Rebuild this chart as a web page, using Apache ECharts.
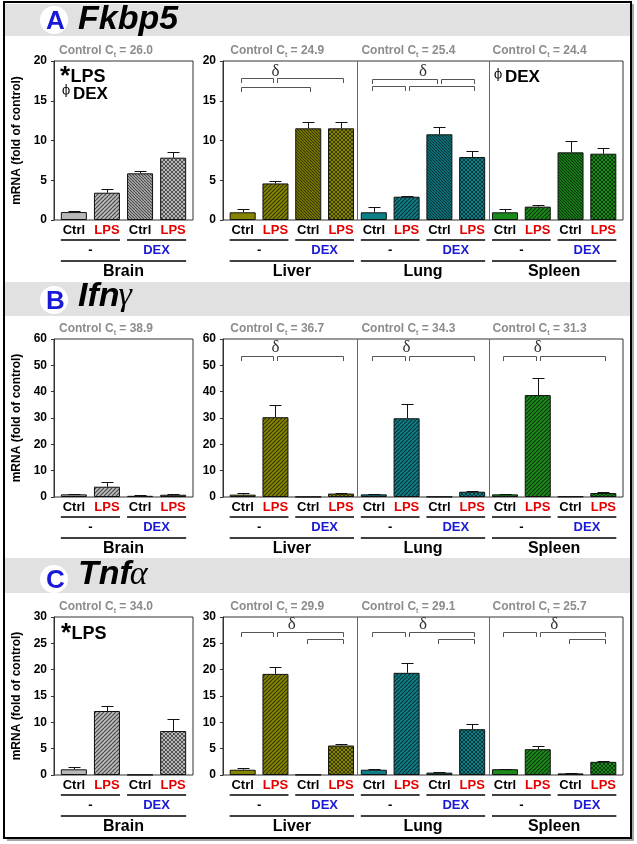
<!DOCTYPE html>
<html><head><meta charset="utf-8">
<script src="https://cdn.jsdelivr.net/npm/echarts@6.0.0/dist/echarts.min.js"></script>
<style>html,body{margin:0;padding:0;background:#fff}#c{width:637px;height:844px}</style>
</head><body><div id="c"></div>
<script>
// ---------------- data ----------------
const categories = ['Ctrl', 'LPS', 'Ctrl', 'LPS'];
const treatments = ['-', 'DEX'];
const tissues = ['Brain', 'Liver', 'Lung', 'Spleen'];
const genes = ['Fkbp5', 'Ifn', 'Tnf'];
const geneGreek = ['', 'γ', 'α'];
const panelLetters = ['A', 'B', 'C'];

const fkbp5Ct = [26.0, 24.9, 25.4, 24.4];
const ifngCt = [38.9, 36.7, 34.3, 31.3];
const tnfaCt = [34.0, 29.9, 29.1, 25.7];

const fkbp5Brain = [1.0, 3.43, 5.87, 7.84];
const fkbp5BrainErr = [0.1, 0.43, 0.29, 0.71];
const fkbp5Organs = [0.97, 4.6, 11.53, 11.53, 0.97, 2.93, 10.78, 7.92, 0.97, 1.68, 8.51, 8.34];
const fkbp5OrganErr = [0.38, 0.3, 0.8, 0.8, 0.63, 0.13, 0.88, 0.72, 0.41, 0.17, 1.43, 0.67];

const ifngBrain = [1.0, 3.9, 0.45, 0.85];
const ifngBrainErr = [0.25, 1.7, 0.15, 0.25];
const ifngOrgans = [0.9, 30.3, 0.05, 1.3, 1.0, 29.9, 0.1, 2.0, 1.0, 38.7, 0.2, 1.5];
const ifngOrganErr = [0.7, 4.6, 0, 0.35, 0.2, 5.4, 0, 0.4, 0.2, 6.5, 0, 0.25];

const tnfaBrain = [1.08, 12.15, 0.05, 8.35];
const tnfaBrainErr = [0.38, 0.95, 0, 2.35];
const tnfaOrgans = [1.0, 19.2, 0.05, 5.6, 1.0, 19.4, 0.45, 8.7, 1.1, 4.9, 0.3, 2.5];
const tnfaOrganErr = [0.4, 1.4, 0, 0.35, 0.2, 1.95, 0.05, 0.9, 0.1, 0.6, 0.05, 0.1];

// significance brackets: [fromIndex, toIndex, level]
const fkbp5Brackets = [[0, 1, 17.86], [1, 3, 17.86], [0, 2, 16.73], [4, 6, 17.75], [6, 7, 17.75], [4, 5, 16.9], [5, 7, 16.9]];
const fkbp5Deltas = [[1, 18.65], [5.5, 18.7]];
const ifngBrackets = [[0, 1, 53.7], [1, 3, 53.7], [4, 5, 53.7], [5, 7, 53.7], [8, 9, 53.7], [9, 11, 53.7]];
const ifngDeltas = [[1, 56.8], [5, 56.8], [9, 56.8]];
const tnfaBrackets = [[0, 1, 27.1], [1, 3, 27.1], [2, 3, 25.9], [4, 5, 27.1], [5, 7, 27.1], [6, 7, 25.9], [8, 9, 27.1], [9, 11, 27.1], [10, 11, 25.9]];
const tnfaDeltas = [[1.5, 28.5], [5.5, 28.5], [9.5, 28.5]];

const yMax = [20, 60, 30];
const yInterval = [5, 10, 5];

// ---------------- styles / layout ----------------
const FONT = '"Liberation Sans", Arial, sans-serif';
const SERIF = '"Liberation Serif", "DejaVu Serif", serif';
const tissueColors = ['#b8b8b8', '#858500', '#0f7f87', '#1b8a1b'];
const panelTops = [61, 339, 617];
const panelHeights = [159, 158, 158];
const brainL = { left: 54, width: 139, n: 4 };
const organL = { left: 223, width: 400, n: 12 };
const BW = 26;

function tile(base, kind) {
  const p = kind === 'b' ? 3 : 4;
  const c = document.createElement('canvas');
  c.width = p; c.height = p;
  const g = c.getContext('2d');
  g.fillStyle = base; g.fillRect(0, 0, p, p);
  g.strokeStyle = 'rgba(0,0,0,0.62)';
  g.lineWidth = kind === 'x' ? 0.9 : 1.1;
  const diag = (dir) => {
    for (let k = -1; k <= 1; k++) {
      g.beginPath();
      if (dir > 0) { g.moveTo(k * p, p); g.lineTo(k * p + p, 0); }
      else { g.moveTo(k * p, 0); g.lineTo(k * p + p, p); }
      g.stroke();
    }
  };
  if (kind === 'f') diag(1);
  else if (kind === 'b') diag(-1);
  else if (kind === 'x') { diag(1); diag(-1); }
  return { image: c, repeat: 'repeat' };
}
const kinds = ['s', 'f', 'b', 'x'];
function barColor(tissueIdx, catIdx) {
  const base = tissueColors[tissueIdx];
  if (catIdx === 0) return base;
  return tile(base, kinds[catIdx]);
}
function coordX(L, v) { return L.left + (v + 0.6) * L.width / (L.n + 0.2); }

const panelData = [
  { brain: fkbp5Brain, brainErr: fkbp5BrainErr, organs: fkbp5Organs, organErr: fkbp5OrganErr, ct: fkbp5Ct, brackets: fkbp5Brackets, deltas: fkbp5Deltas },
  { brain: ifngBrain, brainErr: ifngBrainErr, organs: ifngOrgans, organErr: ifngOrganErr, ct: ifngCt, brackets: ifngBrackets, deltas: ifngDeltas },
  { brain: tnfaBrain, brainErr: tnfaBrainErr, organs: tnfaOrgans, organErr: tnfaOrganErr, ct: tnfaCt, brackets: tnfaBrackets, deltas: tnfaDeltas }
];

const grids = [], xAxes = [], yAxes = [], series = [];

panelData.forEach((P, p) => {
  [brainL, organL].forEach((L, k) => {
    const gi = grids.length;
    grids.push({ left: L.left, top: panelTops[p], width: L.width, height: panelHeights[p], show: true,
      borderColor: '#333', borderWidth: 1, backgroundColor: 'rgba(0,0,0,0)', containLabel: false, outerBoundsMode: 'none' });
    xAxes.push({ gridIndex: gi, type: 'value', min: -0.6, max: L.n - 0.4, show: false });
    yAxes.push({ gridIndex: gi, type: 'value', min: 0, max: yMax[p], interval: yInterval[p], position: 'left',
      axisLine: { show: true, onZero: false, lineStyle: { color: '#333', width: 1 } },
      axisTick: { show: true, length: 3, lineStyle: { color: '#333' } },
      splitLine: { show: false },
      axisLabel: { color: '#000', fontWeight: 'bold', fontSize: 12, fontFamily: FONT, margin: 7 },
      name: k === 0 ? 'mRNA (fold of control)' : '',
      nameLocation: 'middle', nameGap: 31, nameRotate: 90,
      nameTextStyle: { color: '#000', fontWeight: 'bold', fontSize: 12, fontFamily: FONT } });

    const vals = k === 0 ? P.brain : P.organs;
    const errs = k === 0 ? P.brainErr : P.organErr;
    const tIdx = (i) => k === 0 ? 0 : 1 + Math.floor(i / 4);

    series.push({ type: 'bar', xAxisIndex: gi, yAxisIndex: gi, barWidth: BW, silent: true, z: 2,
      itemStyle: { borderColor: '#111', borderWidth: 1 },
      data: vals.map((v, i) => ({ value: [i, v], itemStyle: { color: barColor(tIdx(i), i % 4) } })) });

    // error bars
    series.push({ type: 'custom', xAxisIndex: gi, yAxisIndex: gi, silent: true, z: 3, clip: false,
      data: vals.map((v, i) => [i, v, errs[i]]),
      encode: { x: 0, y: 1 },
      renderItem: (params, api) => {
        const x = api.value(0), v = api.value(1), e = api.value(2);
        if (!e) return null;
        const a = api.coord([x, v]), b = api.coord([x, v + e]);
        const xc = Math.round(a[0]) + 0.5, yt = Math.round(b[1]) + 0.5;
        return { type: 'group', children: [
          { type: 'line', shape: { x1: xc, y1: a[1], x2: xc, y2: yt }, style: { stroke: '#111', lineWidth: 1 } },
          { type: 'line', shape: { x1: xc - 6, y1: yt, x2: xc + 6, y2: yt }, style: { stroke: '#111', lineWidth: 1 } }
        ] };
      } });

    // category labels
    series.push({ type: 'custom', xAxisIndex: gi, yAxisIndex: gi, silent: true, clip: false,
      data: vals.map((v, i) => [i, 0]), encode: { x: 0, y: 1 },
      renderItem: (params, api) => {
        const i = api.value(0);
        const a = api.coord([i, 0]);
        const t = categories[i % 4];
        return { type: 'text', x: a[0], y: a[1] + 10.5,
          style: { text: t, font: 'bold 13px ' + FONT, fill: t === 'LPS' ? '#e60000' : '#000', align: 'center', verticalAlign: 'middle' } };
      } });

    // treatment groups
    const groups = [];
    for (let s = 0; s < L.n; s += 2) groups.push([s, s + 1, 0]);
    series.push({ type: 'custom', xAxisIndex: gi, yAxisIndex: gi, silent: true, clip: false,
      data: groups, encode: { x: [0, 1], y: 2 },
      renderItem: (params, api) => {
        const a = api.coord([api.value(0), 0]), b = api.coord([api.value(1), 0]);
        const lab = treatments[params.dataIndex % 2];
        const yl = Math.round(a[1] + 19.5);
        return { type: 'group', children: [
          { type: 'line', shape: { x1: a[0] - BW / 2, y1: yl, x2: b[0] + BW / 2, y2: yl }, style: { stroke: '#000', lineWidth: 1.6 } },
          { type: 'text', x: (a[0] + b[0]) / 2, y: a[1] + 30,
            style: { text: lab, font: 'bold 13px ' + FONT, fill: lab === 'DEX' ? '#1a1ad6' : '#000', align: 'center', verticalAlign: 'middle' } }
        ] };
      } });

    // tissue groups
    const tg = [];
    for (let s = 0; s < L.n; s += 4) tg.push([s, s + 3, 0]);
    series.push({ type: 'custom', xAxisIndex: gi, yAxisIndex: gi, silent: true, clip: false,
      data: tg, encode: { x: [0, 1], y: 2 },
      renderItem: (params, api) => {
        const a = api.coord([api.value(0), 0]), b = api.coord([api.value(1), 0]);
        const name = tissues[k === 0 ? 0 : 1 + params.dataIndex];
        const yl = Math.round(a[1] + 41);
        return { type: 'group', children: [
          { type: 'line', shape: { x1: a[0] - BW / 2, y1: yl, x2: b[0] + BW / 2, y2: yl }, style: { stroke: '#000', lineWidth: 1.6 } },
          { type: 'text', x: (a[0] + b[0]) / 2, y: a[1] + 52,
            style: { text: name, font: 'bold 16px ' + FONT, fill: '#000', align: 'center', verticalAlign: 'middle' } }
        ] };
      } });

    if (k === 1) {
      // dividers between tissues
      series.push({ type: 'custom', xAxisIndex: gi, yAxisIndex: gi, silent: true, clip: false,
        data: [[3.5, 0], [7.5, 0]], encode: { x: 0, y: 1 },
        renderItem: (params, api) => {
          const a = api.coord([api.value(0), 0]), b = api.coord([api.value(0), yMax[p]]);
          const x = Math.round(a[0]) + 0.5;
          return { type: 'line', shape: { x1: x, y1: a[1], x2: x, y2: b[1] }, style: { stroke: '#666', lineWidth: 1 } };
        } });
      // brackets
      const br = P.brackets;
      const offs = br.map(b => {
        const sl = br.some(o => o !== b && o[2] === b[2] && (o[0] === b[0] || o[1] === b[0]));
        const sr = br.some(o => o !== b && o[2] === b[2] && (o[0] === b[1] || o[1] === b[1]));
        return [sl ? 2 : -1.5, sr ? -2 : 1.5];
      });
      series.push({ type: 'custom', xAxisIndex: gi, yAxisIndex: gi, silent: true, clip: false, z: 4,
        data: br, encode: { x: [0, 1], y: 2 },
        renderItem: (params, api) => {
          const o = offs[params.dataIndex];
          const a = api.coord([api.value(0), api.value(2)]), b = api.coord([api.value(1), api.value(2)]);
          const y = Math.round(a[1]) + 0.5;
          const xa = Math.round(a[0] + o[0]) + 0.5, xb = Math.round(b[0] + o[1]) + 0.5;
          return { type: 'polyline', shape: { points: [[xa, y + 4.5], [xa, y], [xb, y], [xb, y + 4.5]] },
            style: { stroke: '#555', lineWidth: 1, fill: null } };
        } });
      // delta marks
      series.push({ type: 'custom', xAxisIndex: gi, yAxisIndex: gi, silent: true, clip: false, z: 4,
        data: P.deltas, encode: { x: 0, y: 1 },
        renderItem: (params, api) => {
          const a = api.coord([api.value(0), api.value(1)]);
          return { type: 'text', x: a[0], y: a[1],
            style: { text: 'δ', font: '17px ' + SERIF, fill: '#333', align: 'center', verticalAlign: 'middle' } };
        } });
    }
  });
});

// ---------------- decorations ----------------
const graphic = [];
graphic.push({ type: 'polyline', silent: true, z: 50, shape: { points: [[633, 4], [633, 840], [7, 840]] }, style: { stroke: '#8a8a8a', lineWidth: 1.5, fill: null } });
graphic.push({ type: 'rect', silent: true, z: 51, shape: { x: 4, y: 2, width: 627, height: 836 }, style: { stroke: '#000', lineWidth: 2, fill: null } });
const bands = [[4, 32], [282, 34], [558, 35]];
const circleY = [20, 300, 579];
const titleBase = [31.7, 308.3, 586.7];
bands.forEach((b, p) => {
  graphic.push({ type: 'rect', silent: true, z: 1, shape: { x: 5, y: b[0], width: 625, height: b[1] }, style: { fill: '#e1e1e1' } });
  graphic.push({ type: 'circle', silent: true, z: 2, shape: { cx: 54, cy: circleY[p], r: 14 }, style: { fill: '#fff' } });
  graphic.push({ type: 'text', silent: true, z: 3, x: 55.5, y: circleY[p] + 2,
    style: { text: panelLetters[p], font: 'bold 26px ' + FONT, fill: '#1a1ad6', align: 'center', verticalAlign: 'middle' } });
  const gFont = 'italic bold 34px ' + FONT;
  graphic.push({ type: 'text', silent: true, z: 3, x: 78, y: titleBase[p] - 11.9,
    style: { text: genes[p], font: gFont, fill: '#000', align: 'left', verticalAlign: 'middle' } });
  if (geneGreek[p]) {
    const mc = document.createElement('canvas').getContext('2d');
    mc.font = gFont;
    const w = mc.measureText(genes[p]).width;
    graphic.push({ type: 'text', silent: true, z: 3, x: 78 + w - 1, y: titleBase[p] - 11.9,
      style: { text: geneGreek[p], font: 'italic 34px ' + SERIF, fill: '#000', align: 'left', verticalAlign: 'middle' } });
  }
});

const mctx = document.createElement('canvas').getContext('2d');
function tw(t, f) { mctx.font = f; return mctx.measureText(t).width; }
const ctFont = 'bold 12px ' + FONT;
panelData.forEach((P, p) => {
  const xs = [brainL.left + 5, coordX(organL, -0.5) + 4, coordX(organL, 3.5) + 4, coordX(organL, 7.5) + 4];
  const y = panelTops[p] - 10;
  P.ct.forEach((ct, t) => {
    let x = xs[t];
    graphic.push({ type: 'text', silent: true, x: x, y: y, style: { text: 'Control C', font: ctFont, fill: '#8c8c8c', align: 'left', verticalAlign: 'middle' } });
    x += tw('Control C', ctFont);
    graphic.push({ type: 'text', silent: true, x: x, y: y + 4, style: { text: 't', font: 'bold 7px ' + FONT, fill: '#8c8c8c', align: 'left', verticalAlign: 'middle' } });
    x += tw('t', 'bold 7px ' + FONT);
    graphic.push({ type: 'text', silent: true, x: x, y: y, style: { text: ' = ' + ct.toFixed(1), font: ctFont, fill: '#8c8c8c', align: 'left', verticalAlign: 'middle' } });
  });
});

function star(x, yStar, yText) {
  graphic.push({ type: 'text', silent: true, z: 5, x: x, y: yStar, style: { text: '*', font: 'bold 26px ' + FONT, fill: '#000', align: 'left', verticalAlign: 'middle' } });
  graphic.push({ type: 'text', silent: true, z: 5, x: x + 10.5, y: yText, style: { text: 'LPS', font: 'bold 18px ' + FONT, fill: '#000', align: 'left', verticalAlign: 'middle' } });
}
function phi(x, yPhi, yText) {
  graphic.push({ type: 'text', silent: true, z: 5, x: x + 5, y: yPhi, style: { text: 'ϕ', font: '12px "DejaVu Serif", serif', fill: '#000', align: 'center', verticalAlign: 'middle' } });
  graphic.push({ type: 'text', silent: true, z: 5, x: x + 12, y: yText, style: { text: 'DEX', font: 'bold 17px ' + FONT, fill: '#000', align: 'left', verticalAlign: 'middle' } });
}
star(60, 77, 76.7);
phi(61, 91, 94);
phi(493, 75, 77.4);
star(61, 633.4, 633.7);

const chart = echarts.init(document.getElementById('c'), null, { renderer: 'canvas', width: 637, height: 844 });
chart.setOption({
  animation: false,
  backgroundColor: '#fff',
  textStyle: { fontFamily: FONT },
  grid: grids, xAxis: xAxes, yAxis: yAxes, series: series, graphic: graphic
});
</script></body></html>
